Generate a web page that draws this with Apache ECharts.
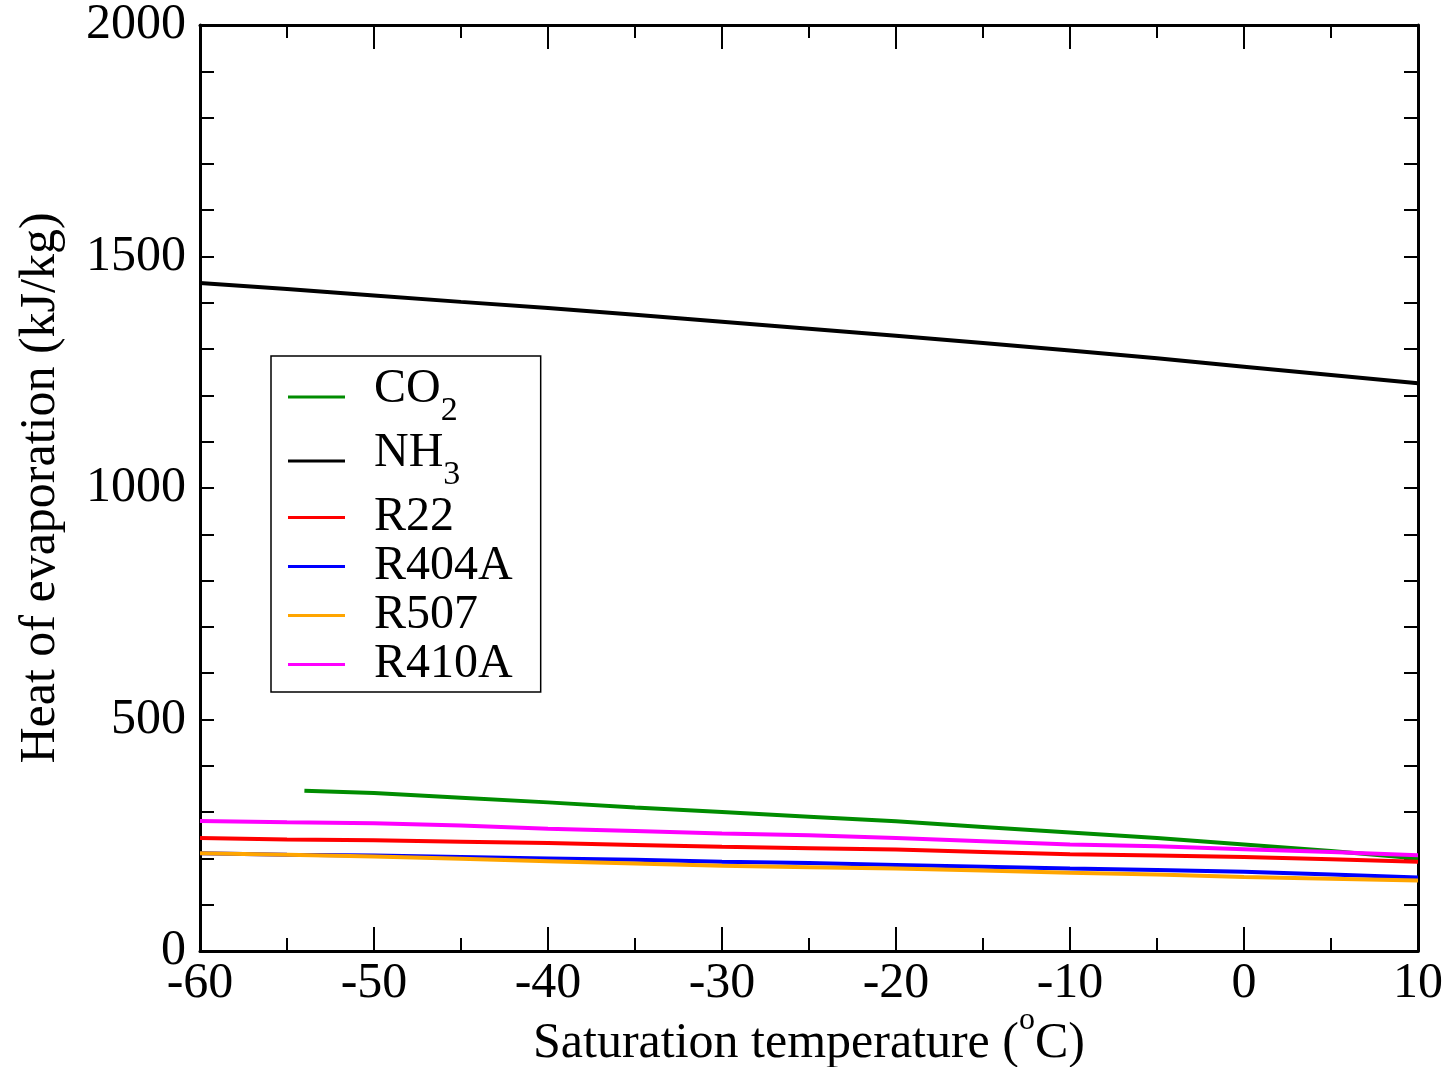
<!DOCTYPE html>
<html>
<head>
<meta charset="utf-8">
<title>Heat of evaporation</title>
<script src="https://cdn.jsdelivr.net/npm/echarts@6/dist/echarts.min.js"></script>
<style>
  html, body { margin: 0; padding: 0; background: #fff; }
  #chart { width: 1450px; height: 1067px; }
</style>
</head>
<body>
<div id="chart"></div>
<script>
// Saturation temperatures (°C)
const temps = [-60, -55, -50, -45, -40, -35, -30, -25, -20, -15, -10, -5, 0, 5, 10];
// CO2 only exists as a liquid above its triple point, so its curve starts later
const co2Temps = [-54, -50, -45, -40, -35, -30, -25, -20, -15, -10, -5, 0, 5, 10];

// Heat of evaporation (kJ/kg)
const co2   = [346, 341, 331, 321, 310, 300, 290, 280, 268, 256, 244, 230, 216, 200];
const nh3   = [1443, 1430, 1416, 1402, 1389, 1374, 1359, 1344, 1329, 1313, 1297, 1280, 1262, 1244, 1226];
const r22   = [244, 241, 239, 236, 233, 229, 225, 222, 219, 214, 209, 206, 203, 198, 193];
const r404a = [211, 208, 206, 203, 200, 197, 193, 190, 186, 182, 178, 175, 171, 165, 159];
const r507  = [211, 208, 204, 199, 194, 189, 184, 181, 178, 174, 169, 165, 160, 156, 152];
const r410a = [281, 278, 276, 271, 264, 259, 254, 250, 244, 237, 230, 226, 220, 214, 207];

// Legend labels, rich-text markup gives the chemical subscripts
const seriesNames = ['CO2', 'NH3', 'R22', 'R404A', 'R507', 'R410A'];
const legendLabels = {
  'CO2': '{b|CO}{s|2}',
  'NH3': '{b|NH}{s|3}',
  'R22': '{b|R22}',
  'R404A': '{b|R404A}',
  'R507': '{b|R507}',
  'R410A': '{b|R410A}'
};

const serif = '"Liberation Serif", "Times New Roman", serif';

function pairs(xs, ys) {
  return xs.map((x, i) => [x, ys[i]]);
}

const seriesDefs = [
  { name: 'CO2',   x: co2Temps, y: co2,   color: '#008c00' },
  { name: 'NH3',   x: temps,    y: nh3,   color: '#000000' },
  { name: 'R22',   x: temps,    y: r22,   color: '#ff0000' },
  { name: 'R404A', x: temps,    y: r404a, color: '#0000ff' },
  { name: 'R507',  x: temps,    y: r507,  color: '#ffa500' },
  { name: 'R410A', x: temps,    y: r410a, color: '#ff00ff' }
];

const axisLine = { show: true, onZero: false, lineStyle: { color: '#000', width: 3 } };
const plainNumber = v => String(v);

function xAxisDef(pos, showLabels) {
  return {
    type: 'value', position: pos, min: -60, max: 10, interval: 10,
    axisLine: axisLine,
    axisTick: { inside: true, length: 24, lineStyle: { color: '#000', width: 2 } },
    minorTick: { show: true, splitNumber: 2, length: 13, lineStyle: { color: '#000', width: 2 } },
    splitLine: { show: false },
    axisLabel: {
      show: showLabels, margin: 8, color: '#000', formatter: plainNumber,
      fontFamily: serif, fontSize: 50
    }
  };
}

function yAxisDef(pos, showLabels) {
  return {
    type: 'value', position: pos, min: 0, max: 2000, interval: 500,
    axisLine: axisLine,
    axisTick: { inside: true, length: 14, lineStyle: { color: '#000', width: 2 } },
    minorTick: { show: true, splitNumber: 5, length: 14, lineStyle: { color: '#000', width: 2 } },
    splitLine: { show: false },
    axisLabel: {
      show: showLabels, margin: 14, color: '#000', formatter: plainNumber,
      fontFamily: serif, fontSize: 50
    }
  };
}

const xBottom = xAxisDef('bottom', true);
xBottom.name = '{n|Saturation temperature (}{sup|o}{n|C)}';
xBottom.nameLocation = 'middle';
xBottom.nameGap = 54;
xBottom.nameMoveOverlap = false;
xBottom.nameTextStyle = {
  color: '#000', fontFamily: serif, fontSize: 50,
  rich: {
    n: { fontFamily: serif, fontSize: 50, color: '#000', verticalAlign: 'top', padding: [14, 0, 0, 0] },
    sup: { fontFamily: serif, fontSize: 32, color: '#000', verticalAlign: 'top' }
  }
};

const yLeft = yAxisDef('left', true);
yLeft.name = 'Heat of evaporation (kJ/kg)';
yLeft.nameLocation = 'middle';
yLeft.nameRotate = 90;
yLeft.nameGap = 134;
yLeft.nameMoveOverlap = false;
yLeft.nameTextStyle = { color: '#000', fontFamily: serif, fontSize: 50 };

const option = {
  backgroundColor: '#ffffff',
  animation: false,
  grid: { left: 200, right: 32, top: 25, bottom: 116, outerBoundsMode: 'none', containLabel: false },
  xAxis: [xBottom, xAxisDef('top', false)],
  yAxis: [yLeft, yAxisDef('right', false)],
  legend: {
    orient: 'vertical',
    left: 271, top: 356,
    padding: [9.5, 28, 3.5, 17],
    itemGap: 1,
    icon: 'rect',
    itemWidth: 57, itemHeight: 3,
    borderColor: '#000', borderWidth: 1.5, borderRadius: 0,
    data: seriesNames,
    formatter: name => legendLabels[name],
    textStyle: {
      color: '#000', fontFamily: serif, fontSize: 48,
      rich: {
        b: { fontFamily: serif, fontSize: 48, color: '#000', verticalAlign: 'top', padding: [0, 0, 0, 24] },
        s: { fontFamily: serif, fontSize: 34, color: '#000', verticalAlign: 'top', padding: [29, 0, 0, 0] }
      }
    }
  },
  series: seriesDefs.map(s => ({
    name: s.name,
    type: 'line',
    data: pairs(s.x, s.y),
    symbol: 'none',
    smooth: false,
    color: s.color,
    itemStyle: { color: s.color },
    lineStyle: { color: s.color, width: 4 }
  }))
};

const chart = echarts.init(document.getElementById('chart'), null, { renderer: 'canvas' });
chart.setOption(option);
</script>
</body>
</html>
